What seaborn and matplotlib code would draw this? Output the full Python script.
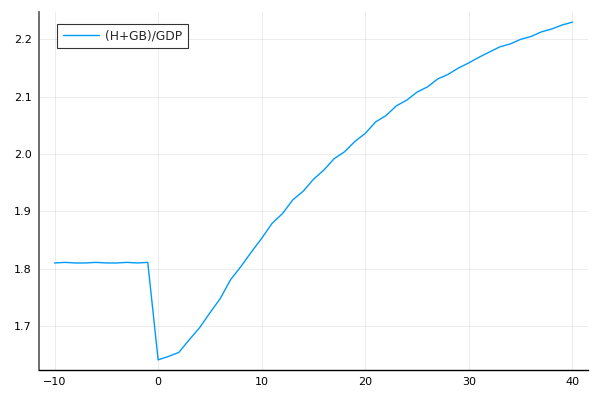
import numpy as np
import pandas as pd
import matplotlib
matplotlib.use("Agg")
import matplotlib.pyplot as plt
import seaborn as sns

# Periods and ratio values
periods = list(range(-10, 41))
ratio = [
    1.810, 1.811, 1.810, 1.810, 1.811, 1.810, 1.810, 1.811, 1.810, 1.811,  # -10..-1
    1.641, 1.647, 1.654, 1.676, 1.697, 1.723, 1.748, 1.781, 1.804, 1.829,  # 0..9
    1.853, 1.879, 1.896, 1.920, 1.935, 1.956, 1.972, 1.992, 2.004, 2.022,  # 10..19
    2.036, 2.056, 2.067, 2.084, 2.094, 2.108, 2.117, 2.131, 2.139, 2.150,  # 20..29
    2.159, 2.169, 2.178, 2.187, 2.192, 2.200, 2.205, 2.213, 2.218, 2.225,  # 30..39
    2.230,                                                                  # 40
]
series_label = "(H+GB)/GDP"
xticks = [-10, 0, 10, 20, 30, 40]
yticks = [1.7, 1.8, 1.9, 2.0, 2.1, 2.2]

df = pd.DataFrame({"t": periods, "value": ratio})

sns.set_style("white")
plt.rcParams["font.family"] = ["DejaVu Sans"]

fig = plt.figure(figsize=(6, 4), dpi=100)
ax = fig.add_axes([0.065, 0.075, 0.915, 0.895])

sns.lineplot(data=df, x="t", y="value", ax=ax, color="#009AFA",
             linewidth=1, label=series_label)

# Axis range with ~3% padding like the reference
xr = max(periods) - min(periods)
yr = max(ratio) - min(ratio)
ax.set_xlim(min(periods) - 0.03 * xr, max(periods) + 0.03 * xr)
ax.set_ylim(min(ratio) - 0.03 * yr, max(ratio) + 0.03 * yr)

ax.set_xticks(xticks)
ax.set_yticks(yticks)
ax.set_xticklabels([str(v).replace("-", "\u2212") for v in xticks])
ax.set_yticklabels([f"{v:.1f}" for v in yticks])
ax.set_xlabel("")
ax.set_ylabel("")

ax.grid(True, color="black", alpha=0.1, linewidth=0.5)
ax.tick_params(direction="in", length=4, width=0.8, labelsize=8,
               colors="black", pad=5)

for side in ["top", "right"]:
    ax.spines[side].set_visible(False)
ax.spines["left"].set_color("#555555")
ax.spines["left"].set_linewidth(1.2)
ax.spines["bottom"].set_color("black")
ax.spines["bottom"].set_linewidth(1.0)

leg = ax.legend(loc="upper left", bbox_to_anchor=(0.033, 0.966),
                borderaxespad=0, fontsize=8.8, frameon=True, fancybox=False,
                borderpad=0.45, handlelength=3.0, handletextpad=0.5)
leg.get_frame().set_edgecolor("black")
leg.get_frame().set_linewidth(0.8)

fig.savefig("out.png", dpi=100)
